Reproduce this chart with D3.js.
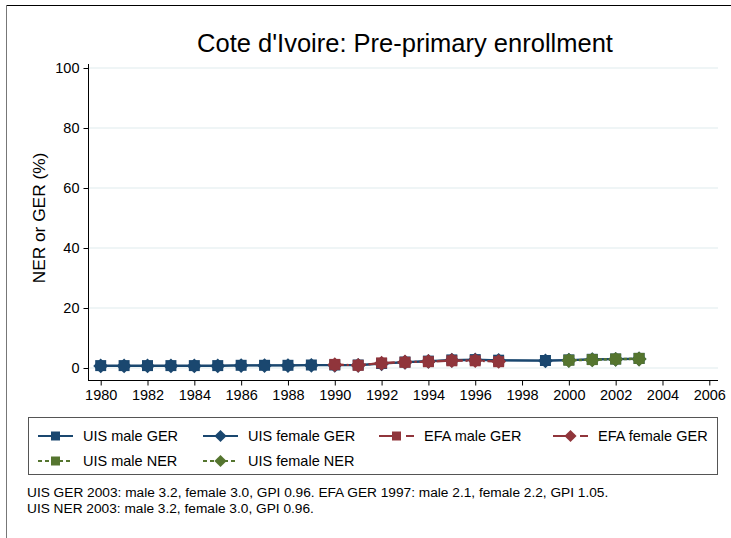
<!DOCTYPE html>
<html><head><meta charset="utf-8">
<script src="https://cdn.jsdelivr.net/npm/d3@7"></script>
<style>body{margin:0;background:#fff;} svg{display:block;font-family:"Liberation Sans",Arial,sans-serif;}</style>
</head><body><svg id="c" width="731" height="538"></svg>
<script>
const title = "Cote d'Ivoire: Pre-primary enrollment";
const yTicks = [0, 20, 40, 60, 80, 100];
const xTicks = [1980,1982,1984,1986,1988,1990,1992,1994,1996,1998,2000,2002,2004,2006];

const uisGerYears = [1980,1981,1982,1983,1984,1985,1986,1987,1988,1989,1990,1991,1992,1993,1994,1995,1996,1997,1999,2000,2001,2002,2003];
const uisMaleGer   = [0.8,0.8,0.8,0.8,0.8,0.8,0.9,0.9,0.9,1.0,1.0,1.0,1.5,2.0,2.3,2.7,2.8,2.6,2.5,2.7,2.9,3.0,3.2];
const uisFemaleGer = [0.7,0.7,0.7,0.7,0.7,0.7,0.8,0.8,0.8,0.9,0.9,0.9,1.4,1.9,2.2,2.6,2.7,2.5,2.4,2.6,2.8,2.9,3.0];

const efaYears = [1990,1991,1992,1993,1994,1995,1996,1997];
const efaMaleGer   = [1.2,0.9,1.7,1.9,2.1,2.4,2.4,2.1];
const efaFemaleGer = [1.1,0.9,1.6,2.0,2.2,2.5,2.5,2.2];

const nerYears = [2000,2001,2002,2003];
const uisMaleNer   = [2.6,2.8,3.0,3.2];
const uisFemaleNer = [2.5,2.7,2.9,3.0];

const legendLabels = ["UIS male GER","UIS female GER","EFA male GER","EFA female GER","UIS male NER","UIS female NER"];
const notes = ["UIS GER 2003: male 3.2, female 3.0, GPI 0.96. EFA GER 1997: male 2.1, female 2.2, GPI 1.05.",
               "UIS NER 2003: male 3.2, female 3.0, GPI 0.96."];

const blue = "#1a476f", red = "#90353b", green = "#55752f";
const series = [
  {name: legendLabels[0], years: uisGerYears, vals: uisMaleGer, color: blue, dash: null, shape: "square"},
  {name: legendLabels[1], years: uisGerYears, vals: uisFemaleGer, color: blue, dash: null, shape: "diamond"},
  {name: legendLabels[2], years: efaYears, vals: efaMaleGer, color: red, dash: "9,3,2,3", shape: "square"},
  {name: legendLabels[3], years: efaYears, vals: efaFemaleGer, color: red, dash: "9,3,2,3", shape: "diamond"},
  {name: legendLabels[4], years: nerYears, vals: uisMaleNer, color: green, dash: "3,2", shape: "square"},
  {name: legendLabels[5], years: nerYears, vals: uisFemaleNer, color: green, dash: "3,2", shape: "diamond"}
];

const svg = d3.select("#c");
// outer frame
svg.append("line").attr("x1",6).attr("x2",731).attr("y1",5.5).attr("y2",5.5).attr("stroke","#000").attr("stroke-width",1);
svg.append("line").attr("x1",6.5).attr("x2",6.5).attr("y1",5).attr("y2",538).attr("stroke","#777").attr("stroke-width",1);

const x = d3.scaleLinear().domain([1980, 2006]).range([100.7, 709.3]);
const y = d3.scaleLinear().domain([0, 100]).range([368, 68]);

// gridlines
svg.append("g").selectAll("line").data(yTicks).join("line")
  .attr("x1", 89).attr("x2", 718).attr("y1", d => y(d)).attr("y2", d => y(d))
  .attr("stroke", "#eaf2f3").attr("stroke-width", 1.5);

// y axis
const yAxis = svg.append("g").attr("transform","translate(88.5,0)")
  .call(d3.axisLeft(y).tickValues(yTicks).tickSize(5).tickPadding(4));
yAxis.select(".domain").attr("d", `M0,${y(100)-4}V380`);
yAxis.selectAll("text").attr("font-size", 14.5).attr("fill","#000").attr("font-family","Liberation Sans, Arial, sans-serif");
yAxis.selectAll("line").attr("stroke","#000");

// x axis
const xAxis = svg.append("g").attr("transform","translate(0,380.5)")
  .call(d3.axisBottom(x).tickValues(xTicks).tickFormat(d3.format("d")).tickSize(5).tickPadding(4));
xAxis.select(".domain").attr("d", "M88,0H718");
xAxis.selectAll("text").attr("font-size", 14.5).attr("fill","#000").attr("font-family","Liberation Sans, Arial, sans-serif");
xAxis.selectAll("line").attr("stroke","#000");

// title
svg.append("text").attr("x", 405).attr("y", 52).attr("text-anchor","middle")
  .attr("font-size", 25.5).attr("fill","#000").text(title);
// y label
svg.append("text").attr("transform","translate(45,218) rotate(-90)").attr("text-anchor","middle")
  .attr("font-size", 17.3).attr("fill","#000").text("NER or GER (%)");

function markerPath(shape, cx, cy, s) {
  if (shape === "square") return `M${cx-s},${cy-s}H${cx+s}V${cy+s}H${cx-s}Z`;
  const r = s * 1.35;
  return `M${cx},${cy-r}L${cx+r},${cy}L${cx},${cy+r}L${cx-r},${cy}Z`;
}

const line = d3.line().x(d => x(d[0])).y(d => y(d[1]));
const plot = svg.append("g");
series.forEach(s => {
  const pts = s.years.map((yr, i) => [yr, s.vals[i]]);
  plot.append("path").attr("d", line(pts)).attr("fill","none").attr("stroke", s.color)
    .attr("stroke-width", 2).attr("stroke-dasharray", s.dash);
  plot.append("g").selectAll("path").data(pts).join("path")
    .attr("d", d => markerPath(s.shape, x(d[0]), y(d[1]), 5.5))
    .attr("fill", s.color);
});

// legend
svg.append("rect").attr("x", 28.5).attr("y", 417.5).attr("width", 689).attr("height", 57)
  .attr("fill","none").attr("stroke","#555").attr("stroke-width",1);
const colX = [38, 203, 379, 553];
const rowY = [436, 461];
series.forEach((s, i) => {
  const cx = colX[i % 4], cy = rowY[Math.floor(i / 4)];
  const g = svg.append("g");
  g.append("line").attr("x1", cx).attr("x2", cx + 35).attr("y1", cy).attr("y2", cy)
    .attr("stroke", s.color).attr("stroke-width", 2)
    .attr("stroke-dasharray", s.dash ? (s.dash === "3,2" ? "4,3" : "14,5,2,6") : null);
  g.append("path").attr("d", markerPath(s.shape, cx + 17.5, cy, 4.5)).attr("fill", s.color);
  g.append("text").attr("x", cx + 45).attr("y", cy + 5).attr("font-size", 14.5).attr("fill","#000").text(s.name);
});

// notes
svg.selectAll("text.note").data(notes).join("text").attr("class","note")
  .attr("x", 27).attr("y", (d, i) => 497 + i * 15.5).attr("font-size", 13.7).attr("fill","#000").text(d => d);
</script></body></html>
